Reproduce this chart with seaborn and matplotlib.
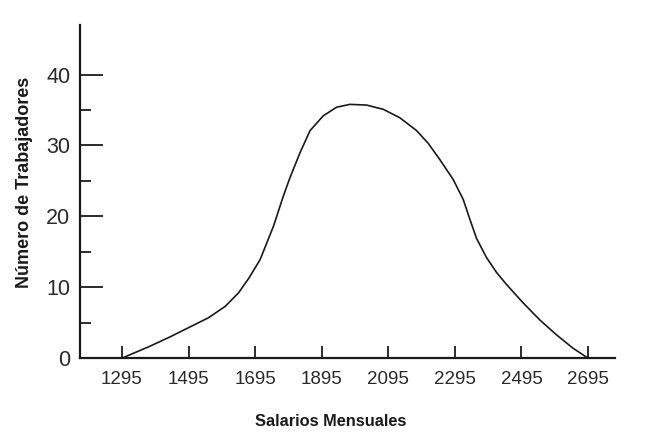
import numpy as np
import pandas as pd
import matplotlib
matplotlib.use("Agg")
import matplotlib.pyplot as plt
import seaborn as sns
from matplotlib.ticker import FixedLocator

# points (salario, numero de trabajadores)
salario = [1295, 1375, 1435, 1495, 1555, 1605, 1645, 1675, 1710, 1750,
           1780, 1800, 1830, 1860, 1900, 1940, 1980, 2030, 2080, 2130,
           2180, 2215, 2250, 2290, 2320, 2340, 2360, 2390, 2420, 2450,
           2500, 2550, 2600, 2650, 2695]
trabajadores = [0, 1.6, 2.9, 4.3, 5.7, 7.3, 9.2, 11.2, 13.9, 18.6,
                22.9, 25.5, 29.0, 32.1, 34.2, 35.4, 35.8, 35.7, 35.1, 33.9,
                32.1, 30.3, 28.0, 25.2, 22.4, 19.6, 16.9, 14.2, 12.1, 10.4,
                7.8, 5.4, 3.3, 1.4, 0]
x_ticks = [1295, 1495, 1695, 1895, 2095, 2295, 2495, 2695]
y_ticks = [0, 10, 20, 30, 40]
y_minor = [5, 15, 25, 35]

sns.set_style("white")
plt.rcParams["font.family"] = ["Liberation Sans", "DejaVu Sans"]

df = pd.DataFrame({"salario": salario, "trabajadores": trabajadores})

fig = plt.figure(figsize=(6.67, 4.46), dpi=100)
ax = fig.add_axes([0.12, 0.197, 0.802, 0.747])

# the curve
sns.lineplot(data=df, x="salario", y="trabajadores", sort=False,
             color="#1a1a1a", linewidth=1.2, ax=ax, clip_on=False,
             solid_joinstyle="round")

ax.set_xlim(1169, 2776)
ax.set_ylim(0, 47)

# axes lines
for side in ["top", "right"]:
    ax.spines[side].set_visible(False)
for side in ["left", "bottom"]:
    ax.spines[side].set_color("#1a1a1a")
    ax.spines[side].set_linewidth(1.6)

# ticks pointing inward
ax.set_xticks(x_ticks)
ax.set_xticklabels([str(t) for t in x_ticks])
ax.set_yticks(y_ticks)
ax.yaxis.set_minor_locator(FixedLocator(y_minor))
ax.tick_params(axis="x", which="major", bottom=True, direction="in", length=9,
               width=1.3, color="#1a1a1a", labelsize=13.5, labelcolor="#2a2a2a", pad=9)
ax.tick_params(axis="y", which="major", left=True, direction="in", length=16.5,
               width=1.3, color="#1a1a1a", labelsize=15.5, labelcolor="#2a2a2a", pad=7)
ax.tick_params(axis="y", which="minor", left=True, direction="in", length=8,
               width=1.3, color="#1a1a1a")

# axis titles
ax.set_xlabel("Salarios Mensuales", fontsize=11.8, fontweight="bold", color="#1a1a1a")
ax.xaxis.label.set_va("center")
ax.xaxis.set_label_coords(0.469, -0.189)
ax.set_ylabel("Número de Trabajadores", fontsize=13, fontweight="bold", color="#1a1a1a")
ax.yaxis.label.set_va("center")
ax.yaxis.set_label_coords(-0.103, 0.527)

fig.savefig("out.png", dpi=100, facecolor="white")
